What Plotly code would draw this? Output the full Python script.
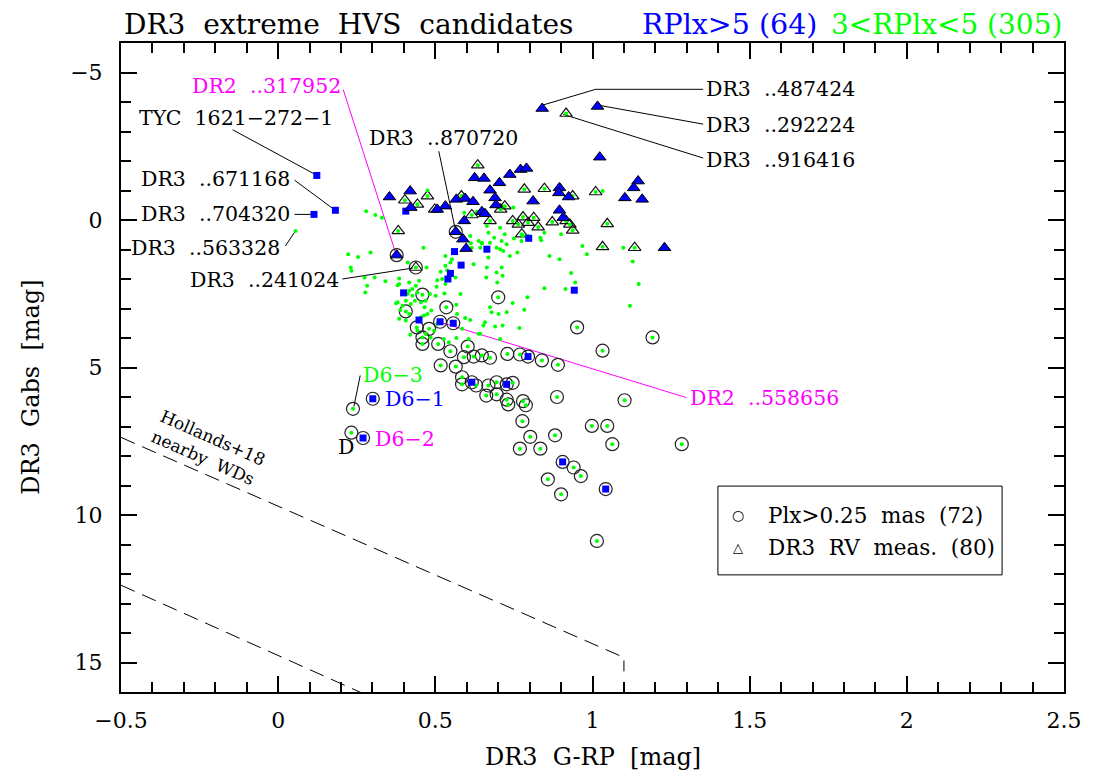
import plotly.graph_objects as go

FONT = "DejaVu Serif"
GREEN = "#00ff00"
BLUE = "#0000ff"
MAGENTA = "#ff00ff"

# ---------------- data ----------------
# green: 3 < RPlx < 5, plain dots
green_x = [0.280, 0.309, 0.330, 0.223, 0.254, 0.294, 0.231, 0.233, 0.275, 0.307, 0.475, 0.283, 0.277,
           0.341, 0.385, 0.380, 0.412, 0.462, 0.417, 0.396, 0.438, 0.443, 0.427, 0.406, 0.380, 0.389,
           0.422, 0.435, 0.454, 0.469, 0.483, 0.501, 0.466, 0.475, 0.487, 0.464, 0.454, 0.406, 0.417,
           0.385, 0.375, 0.396, 0.412, 0.427, 0.448, 0.417, 0.385, 0.506, 0.496, 0.469, 0.443, 0.420,
           0.485, 0.527, 0.543, 0.567, 0.585, 0.595, 0.569, 0.611, 0.653, 0.690, 0.706, 0.606, 0.643,
           0.714, 0.767, 0.727, 0.679, 0.674, 0.746, 0.783, 0.793, 0.567, 0.580, 0.529, 0.504, 0.522,
           0.506, 0.538, 0.532, 0.517, 0.532, 0.553, 0.548, 0.622, 0.648, 0.643, 0.674, 0.687, 0.706,
           0.727, 0.716, 0.737, 0.761, 0.779, 0.774, 0.834, 0.863, 0.895, 0.669, 0.695, 0.714, 0.662,
           0.847, 0.914, 0.837, 0.900, 0.968, 0.982, 1.098, 1.128, 0.932, 0.945, 1.147, 1.119, 0.592,
           0.632, 0.748, 1.032, 0.750, 0.664, 0.721, 0.711, 0.669, 0.638, 0.695, 0.616, 0.648, 0.611,
           0.795, 0.638, 0.701, 0.055, 0.472, 0.532, 0.564, 0.664, 0.697, 0.711, 0.613, 0.706, 0.847,
           0.658]
green_y = [-0.30, -0.17, -0.08, 1.16, 1.25, 1.10, 1.61, 1.72, 1.95, 1.95, -1.00, 2.23, 2.46,
           2.08, 1.98, 2.21, 1.44, 0.94, 2.40, 2.46, 2.23, 2.46, 2.57, 2.74, 2.79, 3.05,
           2.85, 2.74, 2.79, 2.74, 2.51, 2.57, 2.96, 3.19, 3.07, 3.24, 3.30, 3.41, 3.19,
           3.35, 2.82, 2.91, 2.51, 2.34, 2.06, 2.12, 2.17, 3.52, 3.75, 3.86, 3.75, 3.89,
           3.98, 4.03, 4.14, 4.00, 3.69, 3.32, 3.19, 3.39, 3.58, 3.61, 4.03, 4.03, 3.86,
           3.58, 3.66, 3.13, 3.13, 2.96, 2.81, 3.04, 2.62, 2.87, 2.51, 2.49, 2.26, 2.00,
           2.04, 1.70, 1.55, 1.75, 1.22, 1.33, 1.44, 1.50, 0.80, 0.94, 0.77, 0.60, 0.99,
           0.82, 1.05, 1.22, 1.10, 0.54, 0.71, 0.60, 1.22, 1.33, 1.27, 1.78, 1.89, 1.95,
           2.31, 2.34, 0.69, 0.48, 0.88, 1.16, 0.94, 1.41, 1.80, 2.12, 2.17, 2.91, -0.25,
           -0.28, -0.42, -0.98, 0.63, 0.20, 0.48, 0.71, 0.43, 0.71, 0.94, 0.94, 0.77, 0.54,
           0.54, 3.86, 3.19, 0.37, 1.61, 2.17, 1.95, 1.61, 2.12, 1.61, 0.79, 0.26, 0.43,
           3.47]

# green with DR3 RV measurement (open triangle)
green_rv_x = [0.916, 0.635, 0.783, 0.847, 1.010, 0.475, 0.403, 0.443, 0.498, 0.583, 0.721, 0.708,
              0.937, 0.746, 0.779, 0.813, 0.764, 0.795, 0.827, 0.872, 0.928, 0.937, 1.047, 0.775,
              0.382, 0.616, 0.674, 1.032, 1.134, 0.916]
green_rv_y = [-3.61, -1.86, -1.04, -1.06, -0.95, -0.81, -0.67, -0.53, -0.36, -0.81, -0.47, -0.36,
              -0.81, 0.03, -0.10, -0.08, 0.15, 0.09, 0.24, 0.07, 0.15, 0.35, 0.13, 0.48,
              0.37, -0.17, 0.03, 0.91, 0.94, 0.03]

# green with Plx > 0.25 mas (open circle)
green_plx_x = [0.459, 0.700, 0.406, 0.535, 0.441, 0.480, 0.459, 0.459, 0.509, 0.548, 0.603, 0.591,
               0.622, 0.648, 0.674, 0.517, 0.565, 0.729, 0.769, 0.839, 0.890, 0.951, 1.032, 1.191,
               0.585, 0.585, 0.630, 0.669, 0.695, 0.746, 0.662, 0.695, 0.727, 0.732, 0.779, 0.788,
               0.887, 1.102, 0.777, 0.998, 1.047, 0.802, 0.881, 0.769, 0.834, 1.063, 1.284, 0.940,
               0.963, 0.858, 0.900, 1.014, 0.238, 0.233]
green_plx_y = [2.53, 2.62, 3.10, 2.96, 3.64, 3.69, 3.98, 4.20, 4.20, 4.45, 4.29, 4.65,
               4.63, 4.59, 4.67, 4.93, 4.97, 4.54, 4.56, 4.76, 4.91, 3.64, 4.43, 3.98,
               5.33, 5.57, 5.61, 5.61, 5.50, 5.52, 5.95, 5.91, 6.09, 6.25, 6.14, 6.28,
               6.00, 6.11, 6.82, 6.98, 6.98, 7.35, 7.30, 7.75, 7.75, 7.60, 7.60, 8.39,
               8.68, 8.79, 9.30, 10.88, 6.40, 7.21]

# green with both Plx and RV
green_plx_rv_x = [0.438]
green_plx_rv_y = [1.61]

# blue: RPlx > 5, no RV, no Plx
blue_x = [0.123, 0.182, 0.114, 0.406, 0.797, 0.664, 0.561, 0.582, 0.548, 0.540, 0.399, 0.942, 0.448]
blue_y = [-1.51, -0.33, -0.19, -0.30, 0.62, 0.99, 1.07, 1.53, 1.81, 2.00, 2.47, 2.38, 3.39]

# blue with Plx
blue_plx_x = [0.515, 0.557, 0.795, 0.616, 0.727, 0.905, 1.042, 0.301, 0.270]
blue_plx_y = [3.45, 3.50, 4.63, 5.50, 5.57, 8.20, 9.12, 6.06, 7.39]

# blue with RV
blue_rv_x = [0.840, 1.016, 1.023, 0.625, 0.655, 0.737, 0.771, 0.790, 0.704, 0.674, 0.354, 0.420,
             0.895, 0.893, 0.924, 1.145, 1.131, 1.103, 1.158, 0.811, 0.567, 0.595, 0.620, 0.532,
             0.506, 0.690, 0.693, 0.648, 0.658, 0.895, 0.592, 0.588, 0.907, 1.229, 0.422, 0.598]
blue_rv_y = [-3.78, -3.85, -2.13, -1.43, -1.41, -1.54, -1.71, -1.75, -1.26, -1.01, -0.78, -0.98,
             -1.09, -0.92, -0.78, -1.32, -1.09, -0.75, -0.70, -0.64, -0.70, -0.73, -0.62, -0.47,
             -0.36, -0.75, -0.51, -0.28, -0.21, -0.33, 0.03, 0.65, -0.08, 0.94, -0.42, 0.97]

# blue with RV and Plx
blue_plx_rv_x = [0.377, 0.565]
blue_plx_rv_y = [1.19, 0.40]

# Hollands+18 nearby WD sequence limits
wd_upper_x = [-0.5, 1.1, 1.1]
wd_upper_y = [7.37, 14.83, 15.30]
wd_lower_x = [-0.5, 0.27]
wd_lower_y = [12.38, 16.05]

# axis ticks
xtick_vals = [-0.5, 0, 0.5, 1, 1.5, 2, 2.5]
xtick_text = ["\u22120.5", "0", "0.5", "1", "1.5", "2", "2.5"]
ytick_vals = [-5, 0, 5, 10, 15]
ytick_text = ["\u22125", "0", "5", "10", "15"]

# labels: text, x, y, anchor, color ; leader polyline
labels = [
    ("DR2 ..317952", 0.207, -4.53, "right", MAGENTA),
    ("TYC 1621\u2212272\u22121", -0.449, -3.46, "left", "black"),
    ("DR3 ..671168", 0.044, -1.375, "right", "black"),
    ("DR3 ..704320", 0.044, -0.19, "right", "black"),
    ("DR3 ..563328", 0.012, 0.94, "right", "black"),
    ("DR3 ..241024", 0.201, 2.04, "right", "black"),
    ("DR3 ..870720", 0.283, -2.78, "left", "black"),
    ("DR3 ..487424", 1.355, -4.43, "left", "black"),
    ("DR3 ..292224", 1.355, -3.23, "left", "black"),
    ("DR3 ..916416", 1.355, -2.05, "left", "black"),
    ("DR2 ..558656", 1.304, 6.02, "left", MAGENTA),
    ("D6\u22123", 0.264, 5.27, "left", GREEN),
    ("D6\u22121", 0.333, 6.08, "left", BLUE),
    ("D6\u22122", 0.303, 7.41, "left", MAGENTA),
    ("D", 0.216, 7.71, "center", "black"),
]
leaders = [
    ([0.207, 0.375], [-4.42, 1.16], MAGENTA),
    ([-0.145, 0.115], [-3.06, -1.56], "black"),
    ([0.052, 0.175], [-1.35, -0.38], "black"),
    ([0.052, 0.104], [-0.19, -0.19], "black"),
    ([0.023, 0.055], [0.88, 0.37], "black"),
    ([0.204, 0.428], [2.00, 1.63], "black"),
    ([0.511, 0.562], [-2.33, 0.24], "black"),
    ([0.840, 1.010, 1.352], [-3.89, -4.43, -4.43], "black"),
    ([1.020, 1.352], [-3.89, -3.25], "black"),
    ([0.907, 1.352], [-3.58, -2.10], "black"),
    ([0.517, 1.299], [3.47, 6.02], MAGENTA),
    ([0.261, 0.241], [5.27, 6.32], "black"),
]


def sp(s, n=2):
    return s.replace(" ", "\u00a0" * n)


fig = go.Figure()

# WD sequence dashed lines
for xs, ys in [(wd_upper_x, wd_upper_y), (wd_lower_x, wd_lower_y)]:
    fig.add_trace(go.Scatter(x=xs, y=ys, mode="lines",
                             line=dict(color="black", width=1, dash="15px,8px"),
                             hoverinfo="skip"))

# leader lines
for xs, ys, c in leaders:
    fig.add_trace(go.Scatter(x=xs, y=ys, mode="lines", line=dict(color=c, width=1), hoverinfo="skip"))

# Plx circles
fig.add_trace(go.Scatter(
    x=green_plx_x + green_plx_rv_x + blue_plx_x + blue_plx_rv_x,
    y=green_plx_y + green_plx_rv_y + blue_plx_y + blue_plx_rv_y,
    mode="markers",
    marker=dict(symbol="circle-open", size=13, color="#222222", line=dict(width=1.2))))

# RV open triangles (green stars)
fig.add_trace(go.Scatter(
    x=green_rv_x + green_plx_rv_x, y=green_rv_y + green_plx_rv_y, mode="markers",
    marker=dict(symbol="triangle-up-open", size=11, color="#111111", line=dict(width=1.2))))

# green dots
fig.add_trace(go.Scatter(
    x=green_x + green_rv_x + green_plx_x + green_plx_rv_x,
    y=green_y + green_rv_y + green_plx_y + green_plx_rv_y,
    mode="markers", marker=dict(symbol="circle", size=4, color=GREEN)))

# blue squares
fig.add_trace(go.Scatter(
    x=blue_x + blue_plx_x, y=blue_y + blue_plx_y, mode="markers",
    marker=dict(symbol="square", size=7, color=BLUE)))

# blue triangles
fig.add_trace(go.Scatter(
    x=blue_rv_x + blue_plx_rv_x, y=blue_rv_y + blue_plx_rv_y, mode="markers",
    marker=dict(symbol="triangle-up", size=11, color=BLUE, line=dict(color="black", width=1))))

annotations = []
for text, x, y, anchor, color in labels:
    annotations.append(dict(x=x, y=y, xref="x", yref="y", text=sp(text), showarrow=False,
                            xanchor=anchor, yanchor="middle",
                            font=dict(family=FONT, size=20.5, color=color)))

# Hollands+18 label
annotations.append(dict(x=-0.222, y=7.74, xref="x", yref="y", text="Hollands+18<br>nearby\u00a0\u00a0WDs",
                        showarrow=False, textangle=23.8, align="left",
                        font=dict(family=FONT, size=17, color="black")))

# top titles
annotations += [
    dict(x=0.001, y=1.0285, xref="paper", yref="paper", text=sp("DR3 extreme HVS candidates"),
         showarrow=False, xanchor="left", yanchor="middle", font=dict(family=FONT, size=28, color="black")),
    dict(x=0.5504, y=1.0285, xref="paper", yref="paper", text="RPlx>5 (64)",
         showarrow=False, xanchor="left", yanchor="middle", font=dict(family=FONT, size=28.5, color=BLUE)),
    dict(x=1.0003, y=1.0285, xref="paper", yref="paper", text="3<RPlx<5 (305)",
         showarrow=False, xanchor="right", yanchor="middle", font=dict(family=FONT, size=28, color=GREEN)),
    dict(x=0.5, y=-0.10, xref="paper", yref="paper", text=sp("DR3 G-RP [mag]"),
         showarrow=False, xanchor="center", yanchor="middle", font=dict(family=FONT, size=24, color="black")),
    dict(x=-0.0956, y=0.47, xref="paper", yref="paper", text=sp("DR3 Gabs [mag]"), textangle=-90,
         showarrow=False, xanchor="center", yanchor="middle", font=dict(family=FONT, size=24, color="black")),
]

# legend box
annotations += [
    dict(x=1.462, y=10.0, xref="x", yref="y", text="\u25cb", showarrow=False,
         font=dict(family="DejaVu Sans", size=14, color="black")),
    dict(x=1.462, y=11.09, xref="x", yref="y", text="\u25b3", showarrow=False,
         font=dict(family="DejaVu Sans", size=13, color="black")),
    dict(x=1.551, y=10.0, xref="x", yref="y", text=sp("Plx>0.25 mas (72)"), showarrow=False,
         xanchor="left", yanchor="middle", font=dict(family=FONT, size=21.5, color="black")),
    dict(x=1.551, y=11.09, xref="x", yref="y", text=sp("DR3 RV meas. (80)"), showarrow=False,
         xanchor="left", yanchor="middle", font=dict(family=FONT, size=21.5, color="black")),
]

shapes = [dict(type="rect", xref="x", yref="y", x0=1.399, x1=2.303, y0=9.02, y1=12.03,
               line=dict(color="black", width=1), fillcolor="rgba(0,0,0,0)")]

fig.update_layout(
    width=1094, height=774,
    margin=dict(l=121, r=21, t=43, b=82, pad=0),
    plot_bgcolor="white", paper_bgcolor="white",
    showlegend=False,
    font=dict(family=FONT, color="black"),
    annotations=annotations, shapes=shapes,
)
fig.update_xaxes(
    range=[-0.5, 2.5], tickmode="array", tickvals=xtick_vals, ticktext=xtick_text,
    ticks="inside", ticklen=16, tickwidth=1.5, tickcolor="black",
    showline=True, linecolor="black", linewidth=2, mirror="allticks",
    showgrid=False, zeroline=False, tickfont=dict(family=FONT, size=22, color="black"),
    ticklabelstandoff=8,
    minor=dict(tick0=0, dtick=0.1, ticks="inside", ticklen=10, tickwidth=1.5, tickcolor="black", showgrid=False),
)
fig.update_yaxes(
    range=[16, -6], tickmode="array", tickvals=ytick_vals, ticktext=ytick_text,
    ticks="inside", ticklen=16, tickwidth=1.5, tickcolor="black",
    showline=True, linecolor="black", linewidth=2, mirror="allticks",
    showgrid=False, zeroline=False, tickfont=dict(family=FONT, size=22, color="black"),
    ticklabelstandoff=12,
    minor=dict(tick0=0, dtick=1, ticks="inside", ticklen=10, tickwidth=1.5, tickcolor="black", showgrid=False),
)

fig.write_html("out.html")
